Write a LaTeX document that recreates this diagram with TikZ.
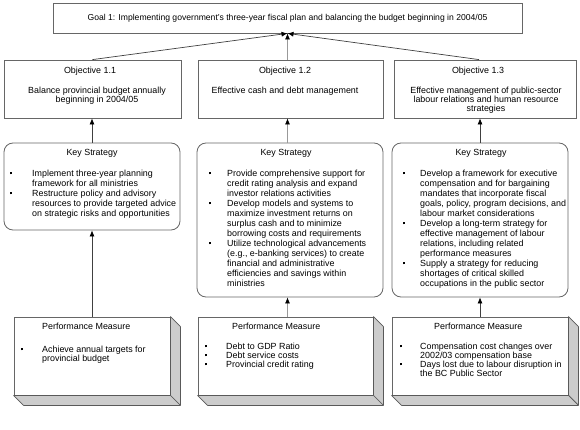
\documentclass[tikz,border=0pt]{standalone}
\usepackage{fontspec}
\setmainfont{Liberation Sans}
\usetikzlibrary{arrows.meta,calc}
\newcommand{\bul}{\rule[1.7pt]{2.1pt}{2.1pt}}
\newcommand{\bi}[2]{\makebox[#1][l]{\bul}#2}
\newcommand{\ci}[2]{\hspace*{#1}#2}
\tikzset{
  fnt/.style={font=\fontsize{8.9}{9}\selectfont},
  ksf/.style={font=\fontsize{8.9}{10}\selectfont},
  pmf/.style={font=\fontsize{8.9}{9}\selectfont},
  ltxt/.style={fnt, inner sep=0pt, align=left, anchor=north west},
  ctxt/.style={fnt, inner sep=0pt, align=center, anchor=north},
  sqbox/.style={draw=black!60, line width=0.8pt, fill=white, inner sep=0pt},
  rbox/.style={sqbox, rounded corners=9pt},
  side/.style={fill=black!20, draw=black!65, line width=0.7pt, line join=round},
  conn/.style={draw=black!75, line width=0.7pt, -{Latex[length=6pt,width=5pt,color=black]}},
  connl/.style={conn, draw=black!40}
}
\begin{document}
\begin{tikzpicture}[x=1pt,y=-1pt]
\useasboundingbox (0,0) rectangle (580,430);
% goal
\node[sqbox, font=\fontsize{8.6}{9}\selectfont, minimum width=469pt, minimum height=30pt] (g) at (287.5,18)
  {Goal 1: Implementing government's three-year fiscal plan and balancing the budget beginning in 2004/05};
% objectives
\node[sqbox, minimum width=177pt, minimum height=58pt] (o1) at (92.5,89) {};
\node[sqbox, minimum width=185pt, minimum height=58pt] (o2) at (290.5,89) {};
\node[sqbox, minimum width=182pt, minimum height=58pt] (o3) at (485,89) {};
\node[ctxt] (o1t) at (90,66.5) {Objective 1.1};
\node[ctxt] (o1b) at (97,86.5) {Balance provincial budget annually\\beginning in 2004/05};
\node[ctxt] (o2t) at (285,66.5) {Objective 1.2};
\node[ctxt] (o2b) at (285,86.5) {Effective cash and debt management};
\node[ctxt] (o3t) at (478,66.5) {Objective 1.3};
\node[ctxt] (o3b) at (486,86.5) {Effective management of public-sector\\labour relations and human resource\\strategies};
% key strategies
\node[rbox, minimum width=176pt, minimum height=87pt] (k1) at (92,186.5) {};
\node[rbox, minimum width=186pt, minimum height=154pt] (k2) at (290,220) {};
\node[rbox, minimum width=176pt, minimum height=154pt] (k3) at (480,220) {};
\node[ctxt] (k1t) at (92,149.5) {Key Strategy};
\node[ctxt] (k2t) at (286,149.5) {Key Strategy};
\node[ctxt] (k3t) at (481,149.5) {Key Strategy};
\node[ltxt, ksf] (k1b) at (10,169.5) {\bi{22pt}{Implement three-year planning}\\
  \ci{22pt}{framework for all ministries}\\
  \bi{22pt}{Restructure policy and advisory}\\
  \ci{22pt}{resources to provide targeted advice}\\
  \ci{22pt}{on strategic risks and opportunities}};
\node[ltxt, ksf] (k2b) at (209,169.5) {\bi{18pt}{Provide comprehensive support for}\\
  \ci{18pt}{credit rating analysis and expand}\\
  \ci{18pt}{investor relations activities}\\
  \bi{18pt}{Develop models and systems to}\\
  \ci{18pt}{maximize investment returns on}\\
  \ci{18pt}{surplus cash and to minimize}\\
  \ci{18pt}{borrowing costs and requirements}\\
  \bi{18pt}{Utilize technological advancements}\\
  \ci{18pt}{(e.g., e-banking services) to create}\\
  \ci{18pt}{financial and administrative}\\
  \ci{18pt}{efficiencies and savings within}\\
  \ci{18pt}{ministries}};
\node[ltxt, ksf] (k3b) at (403,169.5) {\bi{17pt}{Develop a framework for executive}\\
  \ci{17pt}{compensation and for bargaining}\\
  \ci{17pt}{mandates that incorporate fiscal}\\
  \ci{17pt}{goals, policy, program decisions, and}\\
  \ci{17pt}{labour market considerations}\\
  \bi{17pt}{Develop a long-term strategy for}\\
  \ci{17pt}{effective management of labour}\\
  \ci{17pt}{relations, including related}\\
  \ci{17pt}{performance measures}\\
  \bi{17pt}{Supply a strategy for reducing}\\
  \ci{17pt}{shortages of critical skilled}\\
  \ci{17pt}{occupations in the public sector}};
% performance measures (3D boxes)
\node[sqbox, minimum width=156pt, minimum height=78pt] (p1) at (92,356) {};
\node[sqbox, minimum width=175pt, minimum height=78pt] (p2) at (285.5,356) {};
\node[sqbox, minimum width=176pt, minimum height=78pt] (p3) at (480,356) {};
\foreach \p in {p1,p2,p3}{
  \filldraw[side] (\p.north east) -- ++(10,10) -- ($(\p.south east)+(10,10)$) -- (\p.south east) -- cycle;
  \filldraw[side] (\p.south west) -- ++(10,10) -- ($(\p.south east)+(10,10)$) -- (\p.south east) -- cycle;
}
\node[ltxt] (p1t) at (42,322.5) {Performance Measure};
\node[ltxt] (p2t) at (232,322.5) {Performance Measure};
\node[ltxt] (p3t) at (434,322.5) {Performance Measure};
\node[ltxt, pmf] (p1b) at (21,345.5) {\bi{21pt}{Achieve annual targets for}\\
  \ci{21pt}{provincial budget}};
\node[ltxt, pmf] (p2b) at (205,342.5) {\bi{21pt}{Debt to GDP Ratio}\\
  \bi{21pt}{Debt service costs}\\
  \bi{21pt}{Provincial credit rating}};
\node[ltxt, pmf] (p3b) at (400,342.5) {\bi{20pt}{Compensation cost changes over}\\
  \ci{20pt}{2002/03 compensation base}\\
  \bi{20pt}{Days lost due to labour disruption in}\\
  \ci{20pt}{the BC Public Sector}};
% connectors
\draw[conn] (o1.north) -- (g.south);
\draw[connl] (o2.north -| g.south) -- (g.south);
\draw[conn] ($(o3.north)+(-6,0)$) -- (g.south);
\draw[conn] (k1.north) -- (k1.north |- o1.south);
\draw[connl] (k2.north -| g.south) -- (o2.south -| g.south);
\draw[conn] (k3.north) -- (k3.north |- o3.south);
\draw[conn] (p1.north) -- (k1.south);
\draw[connl] (p2.north -| g.south) -- (k2.south -| g.south);
\draw[conn] (p3.north) -- (k3.south);
\end{tikzpicture}
\end{document}
